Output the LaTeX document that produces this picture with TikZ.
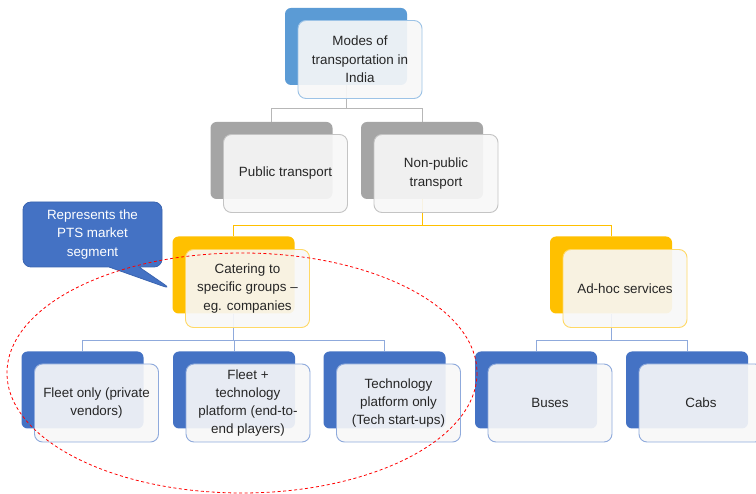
\documentclass[tikz,border=0pt]{standalone}
\usepackage{fontspec}
\setmainfont{Liberation Sans}
\usetikzlibrary{shapes.callouts,backgrounds}
\definecolor{topblue}{HTML}{5B9BD5}
\definecolor{topedge}{HTML}{9DC3E6}
\definecolor{greyback}{HTML}{A5A5A5}
\definecolor{greyedge}{HTML}{C4C4C4}
\definecolor{yellowback}{HTML}{FFC000}
\definecolor{yellowedge}{HTML}{FFD966}
\definecolor{blueback}{HTML}{4472C4}
\definecolor{blueedge}{HTML}{8FAADC}
\definecolor{frontfill}{HTML}{F8F8F8}
\definecolor{txt}{HTML}{262626}
\definecolor{calloutedge}{HTML}{3A64B0}
\begin{document}
\begin{tikzpicture}[x=1pt,y=-1pt,
  backbox/.style={rectangle, rounded corners=6pt, minimum width=122pt, minimum height=77pt, inner sep=0pt},
  frontbox/.style={rectangle, rounded corners=8pt, minimum width=124pt, minimum height=78pt, inner sep=0pt,
     fill=frontfill, fill opacity=0.91, text opacity=1, line width=0.9pt, align=center,
     font=\fontsize{13.4}{18.3}\selectfont, text=txt},
  greyline/.style={draw=greyback!80, line width=0.9pt},
  yellowline/.style={draw=yellowback, line width=0.9pt},
  blueline/.style={draw=blueedge, line width=0.9pt},
  segment/.style={draw=red, dash pattern=on 3pt off 2.5pt, line width=0.8pt}]
\useasboundingbox (0,0) rectangle (756,494);
\clip (0,0) rectangle (756,494);
% level 1
\node[backbox, fill=topblue] (topb) at (346,46.5) {};
\node[frontbox, draw=topedge] (top) at (360,59.5) {Modes of\\transportation in\\India};
% level 2
\node[backbox, fill=greyback] (pubb) at (271.5,160.5) {};
\node[frontbox, draw=greyedge] (pub) at (285.5,173.5) {Public transport};
\node[backbox, fill=greyback] (npb) at (422,160.5) {};
\node[frontbox, draw=greyedge] (np) at (436,173.5) {Non-public\\transport};
% level 3
\node[backbox, fill=yellowback] (catb) at (233.5,275) {};
\node[frontbox, draw=yellowedge] (cat) at (247.5,288.5) {Catering to\\specific groups --\\eg. companies};
\node[backbox, fill=yellowback] (adb) at (611,275) {};
\node[frontbox, draw=yellowedge] (ad) at (625,288.5) {Ad-hoc services};
% level 4
\node[backbox, fill=blueback] (fob) at (82.5,390) {};
\node[frontbox, draw=blueedge] (fo) at (96.5,403) {Fleet only (private\\vendors)};
\node[backbox, fill=blueback] (ftb) at (234,390) {};
\node[frontbox, draw=blueedge] (ft) at (248,403) {Fleet +\\technology\\platform (end-to-\\end players)};
\node[backbox, fill=blueback] (tpb) at (384.5,390) {};
\node[frontbox, draw=blueedge] (tp) at (398.5,403) {Technology\\platform only\\(Tech start-ups)};
\node[backbox, fill=blueback] (busb) at (536,390) {};
\node[frontbox, draw=blueedge] (bus) at (550,403) {Buses};
\node[backbox, fill=blueback] (cabb) at (687,390) {};
\node[frontbox, draw=blueedge] (cab) at (701,403) {Cabs};
% connectors
\begin{scope}[on background layer]
\fill[white] (0,0) rectangle (756,494);
\draw[greyline] (topb.south) -- ++(0,23) -| (pubb.north);
\draw[greyline] (topb.south) -- ++(0,23) -| (npb.north);
\draw[yellowline] (npb.south) -- ++(0,26) -| (catb.north);
\draw[yellowline] (npb.south) -- ++(0,26) -| (adb.north);
\draw[blueline] (catb.south) -- ++(0,27) -| (fob.north);
\draw[blueline] (catb.south) -- ++(0,27) -| (ftb.north);
\draw[blueline] (catb.south) -- ++(0,27) -| (tpb.north);
\draw[blueline] (adb.south) -- ++(0,27) -| (busb.north);
\draw[blueline] (adb.south) -- ++(0,27) -| (cabb.north);
\end{scope}
% callout
\node[rectangle callout, rounded corners=8pt, fill=blueback, draw=calloutedge, line width=0.8pt,
  text=white, minimum width=139pt, minimum height=65pt, inner sep=0pt,
  callout absolute pointer={(171,289)}, callout pointer width=30pt, align=center,
  font=\fontsize{13.4}{18.3}\selectfont] (callout) at (92.5,234.5) {Represents the\\PTS market\\segment};
% segment ellipse
\draw[segment] (242,373) ellipse [x radius=235, y radius=120];
\end{tikzpicture}
\end{document}
